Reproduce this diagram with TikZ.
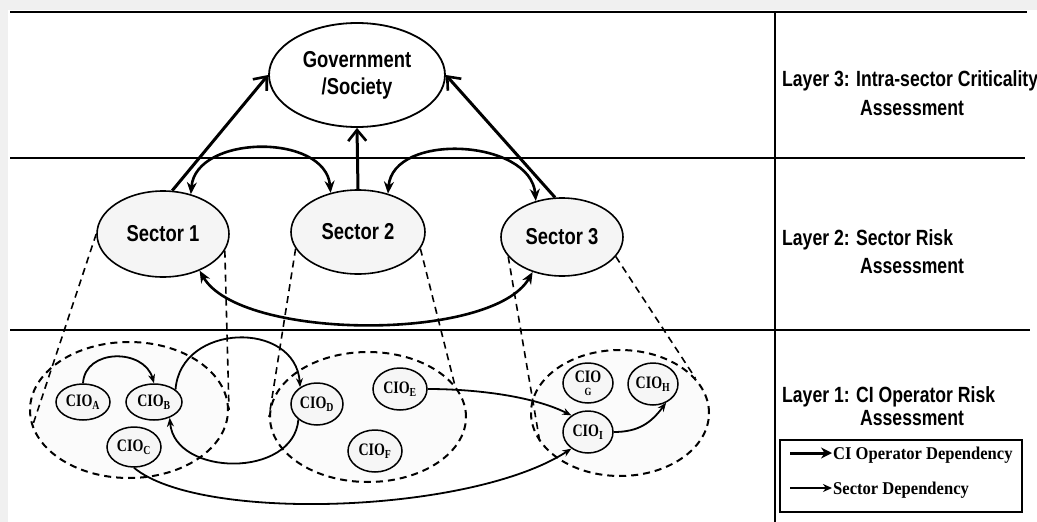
\documentclass[tikz,border=0pt]{standalone}
\usepackage{fontspec}
\usetikzlibrary{arrows.meta,shapes.geometric}
\newfontfamily\labelsans{Liberation Sans}[FakeStretch=0.8]
\newfontfamily\labelserif{Liberation Serif}[FakeStretch=0.8]
\newfontfamily\keyserif{Liberation Serif}[FakeStretch=0.92]

\begin{document}
\begin{tikzpicture}[x=1pt,y=-1pt,
  every node/.style={inner sep=0pt},
  bigfont/.style={font=\labelsans\bfseries\fontsize{23}{27}\selectfont},
  sidefont/.style={font=\labelsans\bfseries\fontsize{22}{26}\selectfont},
  ciofont/.style={font=\labelserif\bfseries\fontsize{17.5}{19}\selectfont},
  keyfont/.style={font=\keyserif\bfseries\fontsize{18}{20}\selectfont},
  sectorbox/.style={ellipse, draw, line width=1.6pt, fill=gray!8, bigfont},
  ciobox/.style={ellipse, draw, line width=1.5pt, fill=gray!7, ciofont},
  cluster/.style={ellipse, draw, line width=2pt, dash pattern=on 7pt off 5pt, fill=gray!3},
  cone/.style={line width=1.6pt, dash pattern=on 7pt off 5pt},
  rule/.style={line width=2pt},
  toplink/.style={line width=3pt, -{Straight Barb[length=11pt,width=18pt,line width=2.6pt]}},
  sectlink/.style={line width=2.6pt, {Stealth[length=12pt,width=10pt]}-{Stealth[length=12pt,width=10pt]}},
  ciolink/.style={line width=1.8pt, -{Stealth[length=9pt,width=7pt]}},
  keythick/.style={line width=3pt, -{Stealth[length=11pt,width=11pt]}},
  keythin/.style={line width=1.6pt, -{Stealth[length=9pt,width=8pt]}}
]
% page and margins
\fill[gray!12] (0,0) rectangle (1037,522);
\fill[white] (8,10) rectangle (1037,522);
\useasboundingbox (0,0) rectangle (1037,522);

% layer rules and label column
\draw[rule] (10,12) -- (1027,12);
\draw[rule] (10,158) -- (1025,158);
\draw[rule] (10,330) -- (1030,330);
\draw[line width=1.6pt] (775,12) -- (775,522);

% operator clusters
\node[cluster, minimum width=198, minimum height=136] (c1) at (129,410) {};
\node[cluster, minimum width=196, minimum height=130] (c2) at (368,417) {};
\node[cluster, minimum width=178, minimum height=126] (c3) at (620,413) {};

% government and sectors
\node[ellipse, draw, line width=1.8pt, fill=white, minimum width=176, minimum height=104,
      align=center, bigfont] (gov) at (357,75) {Government\\/Society};
\node[sectorbox, minimum width=132, minimum height=86] (s1) at (163,234) {Sector 1};
\node[sectorbox, minimum width=134, minimum height=84] (s2) at (358,232) {Sector 2};
\node[sectorbox, minimum width=122, minimum height=78] (s3) at (562,237) {Sector 3};

% projection of each sector onto its cluster
\draw[cone] (s1.180) -- (c1.190);
\draw[cone] (s1.-15) -- (c1.east);
\draw[cone] (s2.195) -- (c2.west);
\draw[cone] (s2.-15) -- (c2.20);
\draw[cone] (s3.200) -- (c3.200);
\draw[cone] (s3.-20) -- (c3.25);

% CI operators
\node[ciobox, minimum width=54, minimum height=36] (a) at (83,402) {CIO\textsubscript{A}};
\node[ciobox, minimum width=56, minimum height=36] (b) at (154,402) {CIO\textsubscript{B}};
\node[ciobox, minimum width=54, minimum height=40] (c) at (134,447) {CIO\textsubscript{C}};
\node[ciobox, minimum width=52, minimum height=42] (d) at (317,404) {CIO\textsubscript{D}};
\node[ciobox, minimum width=54, minimum height=42] (e) at (400,389) {CIO\textsubscript{E}};
\node[ciobox, minimum width=54, minimum height=42] (f) at (375,451) {CIO\textsubscript{F}};
\node[ciobox, minimum width=50, minimum height=40, align=center] (g) at (588,383)
  {CIO\\[-6pt]{\fontsize{11}{11}\selectfont G}};
\node[ciobox, minimum width=50, minimum height=42] (h) at (653,384) {CIO\textsubscript{H}};
\node[ciobox, minimum width=50, minimum height=42] (i) at (588,432) {CIO\textsubscript{I}};

% sectors to government
\draw[toplink] (s1.78) -- (gov.west);
\draw[toplink] (s2.north) -- (gov.south);
\draw[toplink] (s3.100) -- (gov.east);

% sector to sector
\draw[sectlink] (s1.55) .. controls +(5,-60) and +(-5,-60) .. (s2.125);
\draw[sectlink] (s2.52) .. controls +(5,-62) and +(-5,-62) .. (s3.126);
\draw[sectlink] (s1.-45) .. controls +(40,70) and +(-40,70) .. (s3.-130);

% operator to operator
\draw[ciolink] (a.north) .. controls +(2,-35) and +(-10,-35) .. (b.north);
\draw[ciolink] (b.30) .. controls +(5,-67) and +(-5,-67) .. (d.135);
\draw[ciolink] (d.-140) .. controls +(-5,59) and +(5,59) .. (b.-45);
\draw[ciolink] (e.east) .. controls +(45,0) and +(-40,-20) .. (i.135);
\draw[ciolink] (c.south) .. controls +(66,55) and +(-100,65) .. (i.-135);
\draw[ciolink] (i.east) .. controls +(25,0) and +(-15,20) .. (h.-55);

% layer titles
\node[sidefont, anchor=base west] (l3a) at (782,86) {Layer 3: Intra-sector Criticality};
\node[sidefont, anchor=base west] (l3b) at (860,115) {Assessment};
\node[sidefont, anchor=base west] (l2a) at (782,245) {Layer 2: Sector Risk};
\node[sidefont, anchor=base west] (l2b) at (860,273) {Assessment};
\node[sidefont, anchor=base west] (l1a) at (782,402) {Layer 1: CI Operator Risk};
\node[sidefont, anchor=base west] (l1b) at (860,425) {Assessment};

% key
\draw[line width=2pt] (780,440) rectangle (1022,512);
\coordinate (k1s) at (790,453);
\coordinate (k1e) at (832,453);
\coordinate (k2s) at (790,488);
\coordinate (k2e) at (832,488);
\draw[keythick] (k1s) -- (k1e);
\draw[keythin] (k2s) -- (k2e);
\node[keyfont, anchor=base west] (k1t) at (833,459) {CI Operator Dependency};
\node[keyfont, anchor=base west] (k2t) at (833,494) {Sector Dependency};
\end{tikzpicture}
\end{document}
